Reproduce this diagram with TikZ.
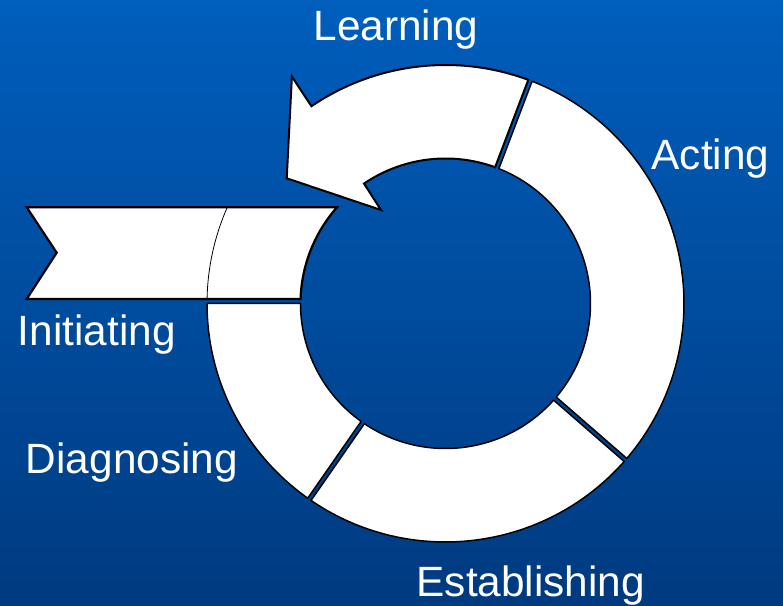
\documentclass[tikz,border=0pt]{standalone}
\usepackage{fontspec}
\setmainfont{Liberation Sans}
\usetikzlibrary{calc}

\definecolor{bgtop}{RGB}{0,94,188}
\definecolor{bgbottom}{RGB}{0,58,128}

\begin{document}
\begin{tikzpicture}[x=1bp,y=1bp,
    ringpart/.style={fill=white,draw=black,line width=1.5bp,line join=round},
    banner/.style={fill=white,draw=black,line width=2.2bp,line join=miter},
    phasetext/.style={text=white,inner sep=0pt,anchor=base west,font=\fontsize{42.5}{51}\selectfont}]

\useasboundingbox (0,0) rectangle (783,606);
\shade [top color=bgtop, bottom color=bgbottom] (0,0) rectangle (783,606);

\coordinate (C) at (445.5,302.5);
\def\rin{145}
\def\rout{238.5}

\foreach \a/\b/\ga/\gb in {-41/69.2/1/1, 235.2/319/1/1, 180/235.2/0/1}
{
    \pgfmathsetmacro\ai{\a+\ga*asin(2/\rin)}
    \pgfmathsetmacro\ao{\a+\ga*asin(2/\rout)}
    \pgfmathsetmacro\bi{\b-\gb*asin(2/\rin)}
    \pgfmathsetmacro\bo{\b-\gb*asin(2/\rout)}
    \draw [ringpart] ($(C)+(\ai:\rin)$) arc [start angle=\ai, end angle=\bi, radius=\rin]
        -- ($(C)+(\bo:\rout)$) arc [start angle=\bo, end angle=\ao, radius=\rout] -- cycle;
}

\pgfmathsetmacro\li{69.2+asin(2/\rin)}
\pgfmathsetmacro\lo{69.2+asin(2/\rout)}
\coordinate (headin) at ($(C)+(124.6:113.6)$);
\coordinate (tip) at ($(C)+(141.75:202.2)$);
\coordinate (headout) at ($(C)+(124.1:274)$);
\draw [ringpart, line width=2bp, line join=miter] ($(C)+(\li:\rin)$) arc [start angle=\li, end angle=124.2, radius=\rin]
    -- (headin) -- (tip) -- (headout)
    -- ($(C)+(124.2:\rout)$) arc [start angle=124.2, end angle=\lo, radius=\rout] -- cycle;

\coordinate (tail1) at ($(C)+(-418.8,96.2)$);
\coordinate (tail2) at ($(C)+(-388.8,50.8)$);
\coordinate (tail3) at ($(C)+(-418.8,4.5)$);
\draw [banner] (tail1) -- ($(C)+(138.44:\rin)$) arc [start angle=138.44, end angle=178.22, radius=\rin]
    -- (tail3) -- (tail2) -- cycle;
\draw [line width=0.8bp] ($(C)+(156.21:\rout)$) arc [start angle=156.21, end angle=178.92, radius=\rout];

\node [phasetext] (learning) at (313.5,565.3) {Learning};
\node [phasetext] (acting) at (651.5,436.7) {Acting};
\node [phasetext] (initiating) at (17.7,260.3) {Initiating};
\node [phasetext] (diagnosing) at (25.8,132.7) {Diagnosing};
\node [phasetext] (establishing) at (416.5,9.3) {Establishing};

\end{tikzpicture}
\end{document}
